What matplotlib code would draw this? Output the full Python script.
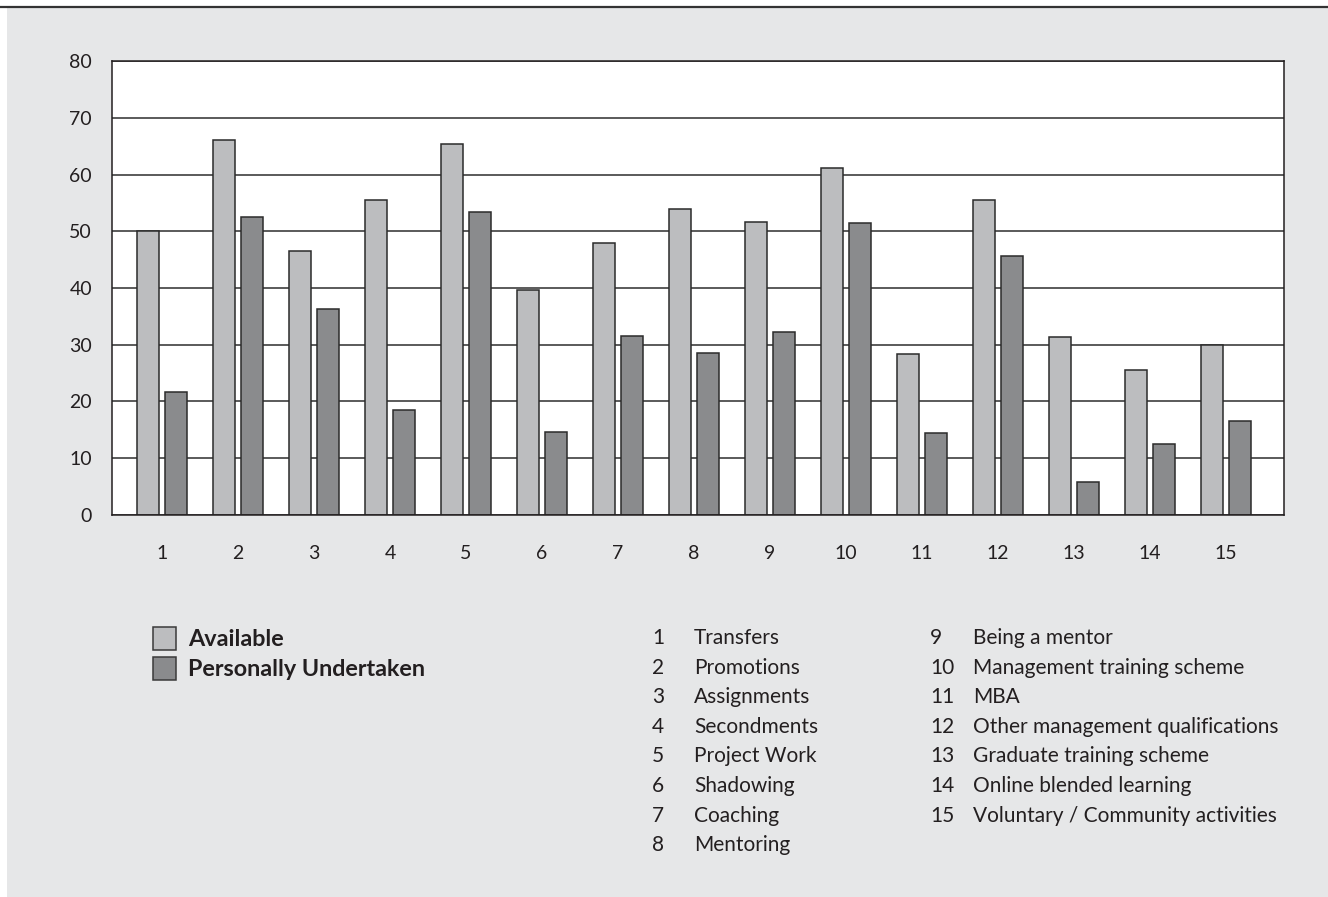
import numpy as np
import matplotlib.pyplot as plt
from matplotlib.patches import Rectangle
from matplotlib.lines import Line2D

plt.rcParams['font.family'] = ['Lato', 'DejaVu Sans']

# Development activities, numbered 1-15
categories = ['Transfers', 'Promotions', 'Assignments', 'Secondments', 'Project Work',
              'Shadowing', 'Coaching', 'Mentoring', 'Being a mentor',
              'Management training scheme', 'MBA', 'Other management qualifications',
              'Graduate training scheme', 'Online blended learning',
              'Voluntary / Community activities']
available = [50.0, 66.2, 46.5, 55.6, 65.4, 39.6, 47.9, 53.9, 51.6, 61.2, 28.3, 55.5, 31.4, 25.5, 30.0]
undertaken = [21.6, 52.6, 36.3, 18.5, 53.4, 14.6, 31.6, 28.6, 32.2, 51.4, 14.5, 45.7, 5.8, 12.4, 16.5]
series_names = ['Available', 'Personally Undertaken']
yticks = [0, 10, 20, 30, 40, 50, 60, 70, 80]

light = '#bcbdbf'
dark = '#8a8b8d'
edge = '#2b2b2b'
bg = '#e6e7e8'
ink = '#231f20'

W, H = 1328, 897
fig = plt.figure(figsize=(W / 100, H / 100), dpi=100)
fig.patch.set_facecolor('white')

# grey panel with rule along the top
fig.patches.append(Rectangle((7 / W, 0), 1 - 7 / W, 1 - 8 / H,
                             transform=fig.transFigure, facecolor=bg, edgecolor='none', zorder=-2))
fig.lines.append(Line2D([0, 1], [1 - 7 / H, 1 - 7 / H], transform=fig.transFigure,
                        color='#333333', lw=1.6, zorder=-1))

ax = fig.add_axes([111.5 / W, 382.3 / H, (1284 - 111.5) / W, (835.6 - 382.3) / H])
ax.set_facecolor('white')

x = np.arange(1, len(categories) + 1)
w = 0.29
off = 0.179
ax.bar(x - off, available, w, color=light, edgecolor=edge, linewidth=1.1, zorder=3)
ax.bar(x + off, undertaken, w, color=dark, edgecolor=edge, linewidth=1.1, zorder=3)

ax.set_xlim(0.336, 15.763)
ax.set_ylim(0, 80)
ax.set_yticks(yticks)
ax.set_xticks(x)
ax.set_xticklabels([str(i) for i in x])
ax.yaxis.grid(True, color='#4d4d4d', linewidth=1.3, zorder=1)
ax.set_axisbelow(True)
ax.tick_params(axis='both', length=0, labelsize=14, colors=ink)
ax.tick_params(axis='y', pad=14)
ax.tick_params(axis='x', pad=22)
for s in ax.spines.values():
    s.set_color(ink)
    s.set_linewidth(1.1)
    s.set_zorder(4)

# legend boxes
for i, (name, col) in enumerate(zip(series_names, [light, dark])):
    y0 = 627 + i * 30
    fig.patches.append(Rectangle((153 / W, 1 - (y0 + 23) / H), 23 / W, 23 / H,
                                 transform=fig.transFigure, facecolor=col,
                                 edgecolor='#3a3a3a', linewidth=1.1, zorder=2))
    fig.text(188 / W, 1 - (y0 + 12) / H, name, fontsize=16.8, fontweight='bold',
             color=ink, va='center', ha='left')

# numbered key
for i, name in enumerate(categories):
    if i < 8:
        row = i
        nx, tx = 658, 694
        ha = 'center'
    else:
        row = i - 8
        nx, tx = 930, 973
        ha = 'left'
    yy = 1 - (638 + row * 29.6) / H
    fig.text(nx / W, yy, str(i + 1), fontsize=15, color=ink, va='center', ha=ha)
    fig.text(tx / W, yy, name, fontsize=15, color=ink, va='center', ha='left')

fig.savefig('out.png', dpi=100, facecolor=fig.get_facecolor())
